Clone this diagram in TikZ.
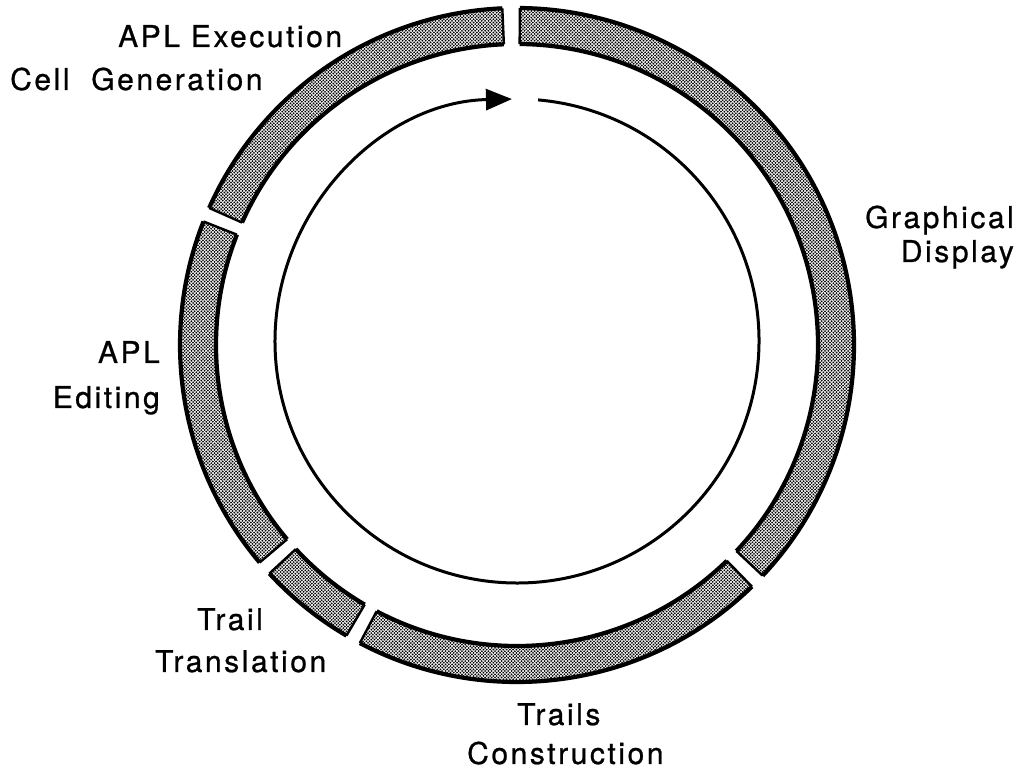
\documentclass[tikz,border=0pt]{standalone}
\usepackage{fontspec}
\setmainfont{TeX Gyre Heros}[LetterSpace=8.5, FakeBold=0.8]
\usetikzlibrary{arrows.meta,patterns}

% fine halftone dot screen for the ring segments
\pgfdeclarepatternformonly{halftone}{\pgfqpoint{-1.2pt}{-1.2pt}}{\pgfqpoint{4.5pt}{4.5pt}}{\pgfqpoint{3.3pt}{3.3pt}}{%
  \pgfpathcircle{\pgfqpoint{0pt}{0pt}}{1.0pt}%
  \pgfpathcircle{\pgfqpoint{1.65pt}{1.65pt}}{1.0pt}%
  \pgfusepath{fill}}

\def\ringout{337pt}
\def\ringin{301pt}

\tikzset{
  label text/.style={font=\fontsize{30}{32}\selectfont, inner sep=0pt},
  ring fill/.style={pattern=halftone, pattern color=black},
  ring edge/.style={line width=2.4pt},
  ring rim/.style={line width=4.2pt},
  cycle line/.style={line width=3pt},
}

% one shaded segment of the outer ring, from angle #1 to angle #2 (counterclockwise)
\newcommand\ringsegment[2]{%
  \path[ring fill] (#1:\ringout) arc[start angle=#1, end angle=#2, radius=\ringout]
    -- (#2:\ringin) arc[start angle=#2, end angle=#1, radius=\ringin] -- cycle;
  \draw[ring edge] (#1:\ringout) -- (#1:\ringin) (#2:\ringout) -- (#2:\ringin);
  \draw[ring rim] (#1:\ringout) arc[start angle=#1, end angle=#2, radius=\ringout]
    (#1:\ringin) arc[start angle=#1, end angle=#2, radius=\ringin];
}

\begin{document}
\begin{tikzpicture}[x=1pt, y=1pt]
\useasboundingbox (0,0) rectangle (1024,770);

% outer ring of process stages
\begin{scope}[shift={(517,425)}]
  \ringsegment{92.5}{156}
  \ringsegment{158.5}{220.2}
  \ringsegment{222.7}{239.6}
  \ringsegment{242.2}{314.2}
  \ringsegment{316.8}{449.5}
\end{scope}

% inner cycle arrow
\begin{scope}[shift={(517,429)}]
  \draw[cycle line, -{Triangle[length=26pt, width=21pt]}]
    (85:242pt) arc[start angle=85, end angle=-268.8, radius=242pt];
\end{scope}

% stage labels
\node[label text, anchor=base west] (exec) at (118,723) {APL Execution};
\node[label text, anchor=base west] (cellgen) at (10,680) {Cell\ \ Generation};
\node[label text, anchor=base east] (graph) at (1014,542) {Graphical};
\node[label text, anchor=base east] (disp) at (1014,508) {Display};
\node[label text, anchor=base east] (apl) at (160,407) {APL};
\node[label text, anchor=base east] (edit) at (160,362) {Editing};
\node[label text, anchor=base west] (trail) at (197,140) {Trail};
\node[label text, anchor=base west] (transl) at (155,98) {Translation};
\node[label text, anchor=base west] (trails) at (517,45) {Trails};
\node[label text, anchor=base west] (constr) at (467,6) {Construction};
\end{tikzpicture}
\end{document}
